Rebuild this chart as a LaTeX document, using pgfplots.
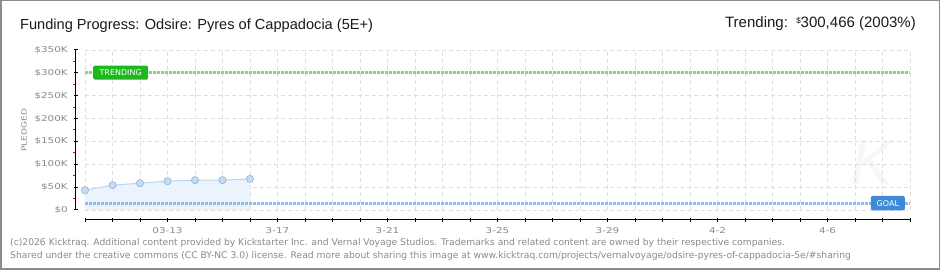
\documentclass[border=0pt]{standalone}
\usepackage{pgfplots}
\pgfplotsset{compat=1.18}
\usepackage{fontspec}
\setmainfont{Liberation Sans}
\newfontfamily\tickfont[FakeStretch=1.3]{DejaVu Sans}
\newfontfamily\dejavu{DejaVu Sans}
\definecolor{bordergray}{HTML}{8C8C8C}
\definecolor{titleblack}{HTML}{1A1A1A}
\definecolor{tickgray}{HTML}{8A8A8A}
\definecolor{gridgray}{HTML}{DEDEDE}
\definecolor{areablue}{HTML}{EBF3FC}
\definecolor{lineblue}{HTML}{B8D5F3}
\definecolor{markfill}{HTML}{C6DCF5}
\definecolor{markdraw}{HTML}{92B2D6}
\definecolor{goalblue}{HTML}{8DBBEA}
\definecolor{goalbox}{HTML}{3F8AD8}
\definecolor{trendgreen}{HTML}{8AD57A}
\definecolor{trendbox}{HTML}{1DB81D}
\definecolor{wm}{HTML}{F7F7F7}
\begin{document}
\begin{tikzpicture}[x=1pt,y=1pt]
\useasboundingbox (0,0) rectangle (940,270);
\fill[white] (0,0) rectangle (940,270);
\draw[bordergray, line width=1.5pt] (0.75,0.75) rectangle (939.25,269.25);
\node[text=wm, font=\itshape\fontsize{64}{64}\selectfont, anchor=center] at (872,108) {K};
% titles
\node[anchor=base west, inner sep=0pt, text=titleblack, font=\fontsize{14.6}{16}\selectfont] at (20,240.5) {Funding Progress: Odsire: Pyres of Cappadocia (5E+)};
\node[anchor=base east, inner sep=0pt, text=titleblack, font=\fontsize{15}{16}\selectfont] at (916,242.5) {Trending:\ \ \raisebox{4pt}{\fontsize{8}{8}\selectfont\$}300,466 (2003\%)};
% y label
\node[rotate=90, text=tickgray, font=\tickfont\fontsize{7}{7}\selectfont, inner sep=0pt] at (24,140) {PLEDGED};
% footer
\node[anchor=base west, inner sep=0pt, text=tickgray, font=\dejavu\fontsize{9.2}{10}\selectfont] at (10,24) {(c)2026 Kicktraq. Additional content provided by Kickstarter Inc. and Vernal Voyage Studios. Trademarks and related content are owned by their respective companies.};
\node[anchor=base west, inner sep=0pt, text=tickgray, font=\dejavu\fontsize{9.2}{10}\selectfont] at (10,11.3) {Shared under the creative commons (CC BY-NC 3.0) license. Read more about sharing this image at www.kicktraq.com/projects/vernalvoyage/odsire-pyres-of-cappadocia-5e/\#sharing};

% main plot area: grid and data
\begin{axis}[at={(85pt,60pt)}, anchor=south west, scale only axis,
  width=825pt, height=160pt,
  xmin=0, xmax=30, ymin=0, ymax=350000,
  scaled y ticks=false,
  axis line style={draw=none},
  xtick={0,...,30}, ytick={0,50000,...,350000},
  xticklabels={}, yticklabels={},
  major tick length=0pt,
  grid=major,
  major grid style={gridgray, dash pattern=on 4pt off 3pt, line width=0.8pt},
  clip=false]
\addplot[fill=areablue, draw=none] coordinates {(0,43300) (1,54300) (2,58700) (3,63000) (4,65300) (5,65300) (6,68000)} \closedcycle;
\addplot[goalblue, line width=3pt, dash pattern=on 2.7pt off 1.3pt] coordinates {(0,15000) (30,15000)};
\addplot[trendgreen, line width=3pt, dash pattern=on 2.7pt off 1.3pt] coordinates {(0,300466) (30,300466)};
\addplot[lineblue, line width=1pt, mark=*, mark size=3.6pt, mark options={fill=markfill, draw=markdraw, line width=0.6pt}] coordinates {(0,43300) (1,54300) (2,58700) (3,63000) (4,65300) (5,65300) (6,68000)};
\node[fill=trendbox, text=white, font=\dejavu\fontsize{8}{8}\selectfont, inner sep=0pt, minimum width=55pt, minimum height=14pt, rounded corners=1.5pt, anchor=west] at (axis cs:0.29,300466) {TRENDING};
\node[fill=goalbox, text=white, font=\dejavu\fontsize{8}{8}\selectfont, inner sep=0pt, minimum width=34pt, minimum height=14.5pt, rounded corners=1.5pt, anchor=east] at (axis cs:29.82,15000) {GOAL};
\end{axis}

% y axis, offset left
\begin{axis}[at={(76pt,60pt)}, anchor=south west, scale only axis,
  width=825pt, height=160pt,
  xmin=0, xmax=30, ymin=0, ymax=350000,
  scaled y ticks=false,
  axis x line=none, axis y line*=left,
  y axis line style={black, line width=1pt},
  ytick={0,50000,...,350000},
  yticklabels={\$0,\$50K,\$100K,\$150K,\$200K,\$250K,\$300K,\$350K},
  minor ytick={25000,75000,...,325000},
  tick align=center,
  major tick length=4pt, minor tick length=3pt,
  major tick style={black, line width=1pt},
  minor tick style={red, line width=1pt, xshift=-1.5pt},
  yticklabel style={anchor=east, inner sep=0pt, xshift=-6pt, text=tickgray, font=\tickfont\fontsize{8}{8}\selectfont}]
\addplot[draw=none] coordinates {(0,0)};
\end{axis}

% x axis, offset down
\begin{axis}[at={(85pt,50pt)}, anchor=south west, scale only axis,
  width=825pt, height=10pt,
  xmin=0, xmax=30, ymin=0, ymax=1,
  axis y line=none, axis x line*=bottom,
  x axis line style={black, line width=1pt},
  xtick={0,...,30},
  xticklabels={{},{},{},03-13,{},{},{},3-17,{},{},{},3-21,{},{},{},3-25,{},{},{},3-29,{},{},{},4-2,{},{},{},4-6,{},{},{}},
  tick align=center, major tick length=4pt,
  major tick style={black, line width=1pt},
  xticklabel style={anchor=north, inner sep=0pt, yshift=-5pt, text=tickgray, font=\tickfont\fontsize{8}{8}\selectfont}]
\addplot[draw=none] coordinates {(0,0)};
\end{axis}
\end{tikzpicture}
\end{document}
